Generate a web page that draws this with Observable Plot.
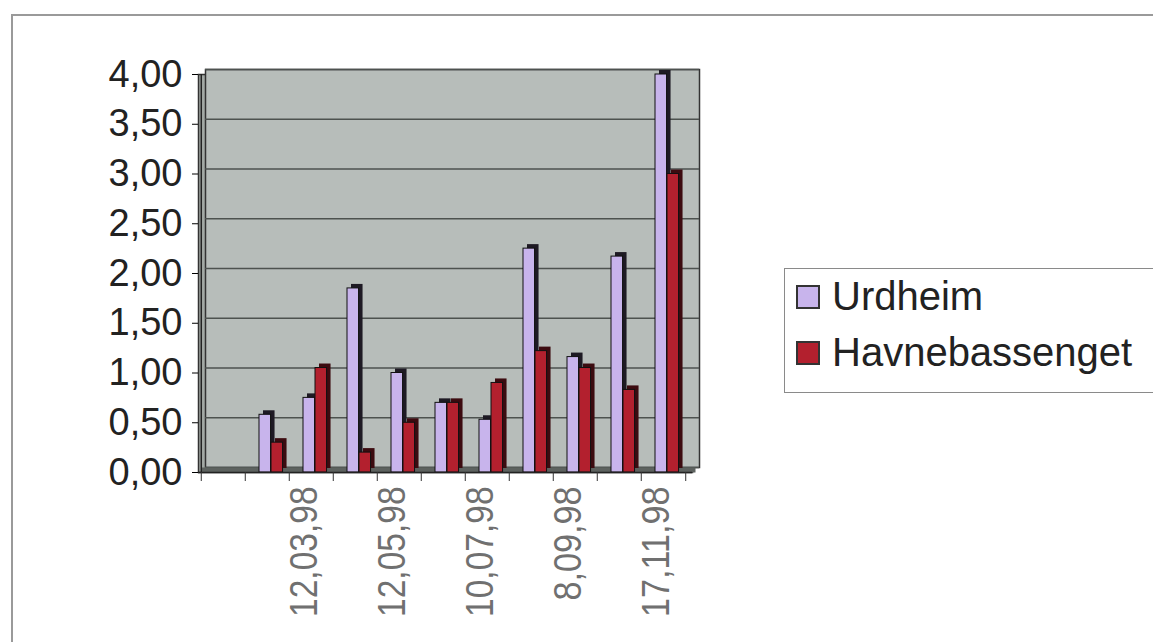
<!DOCTYPE html>
<html>
<head>
<meta charset="utf-8">
<script src="https://cdn.jsdelivr.net/npm/d3@7"></script>
<script src="https://cdn.jsdelivr.net/npm/@observablehq/plot@0.6"></script>
<style>
  html, body { margin: 0; padding: 0; background: #fff; overflow: hidden; }
  #wrap { position: relative; width: 1153px; height: 642px; }
  #outer { position: absolute; left: 11px; top: 14px; width: 1200px; height: 700px;
           border-left: 2px solid #9a9a9a; border-top: 2px solid #9a9a9a; box-sizing: border-box; }
  #chart { position: absolute; left: 0; top: 0; }
  #legend { position: absolute; left: 784px; top: 268px; width: 400px; height: 125px;
            border: 1.5px solid #8a8a8a; box-sizing: border-box; background: #fff;
            font-family: "Liberation Sans", Arial, sans-serif; font-size: 40px; color: #222; }
  .item { position: absolute; left: 11px; display: flex; align-items: center; }
  .sw { width: 24px; height: 24px; border: 2px solid #333; box-sizing: border-box; margin-right: 12px; }
</style>
</head>
<body>
<div id="wrap">
  <div id="outer"></div>
  <div id="chart"></div>
  <div id="legend"></div>
</div>
<script>
// Category tick labels (every other label is shown; first category is empty)
const categoryLabels = ["", "", "12,03,98", "", "12,05,98", "", "10,07,98", "", "8,09,98", "", "17,11,98"];
const seriesNames = ["Urdheim", "Havnebassenget"];
const urdheim        = [null, 0.58, 0.75, 1.85, 1.00, 0.70, 0.53, 2.25, 1.16, 2.17, 4.00];
const havnebassenget = [null, 0.30, 1.05, 0.20, 0.50, 0.70, 0.90, 1.22, 1.05, 0.83, 3.00];
const yTicks = [0, 0.5, 1, 1.5, 2, 2.5, 3, 3.5, 4];

const colors = { front: ["#c8b4ec", "#b3202e"], side: ["#1e1a24", "#3c0b10"] };

const idx = d3.range(categoryLabels.length);
const dataU = idx.filter(i => urdheim[i] != null).map(i => ({i, v: urdheim[i]}));
const dataH = idx.filter(i => havnebassenget[i] != null).map(i => ({i, v: havnebassenget[i]}));

const x0 = 198, x1 = 687;
const bw = (x1 - x0) / idx.length;
const depthX = 4, depthY = -4;

const fmt = d => d.toFixed(2).replace(".", ",");

const chart = Plot.plot({
  width: 1153,
  height: 642,
  marginLeft: 198,
  marginRight: 1153 - 692,
  marginTop: 74,
  marginBottom: 170,
  style: { background: "transparent", fontFamily: "Liberation Sans, Arial, sans-serif" },
  x: { type: "band", domain: idx, range: [x0, x1], padding: 0 },
  y: { domain: [0, 4], ticks: yTicks },
  marks: [
    // front (side walls / floor) and back wall
    Plot.frame({ fill: "#a3a9a5", stroke: "#333", strokeWidth: 1.5 }),
    Plot.frame({ fill: "#b7bdba", stroke: "#333", strokeWidth: 1.5, dx: 7, dy: -5 }),
    Plot.ruleY(yTicks, { stroke: "#4d524f", strokeWidth: 1.5, dx: 7, dy: -5 }),
    Plot.ruleY([0], { stroke: "#5d625f", strokeWidth: 5, dx: 3.5, dy: -2.5 }),
    // Urdheim bars
    Plot.barY(dataU, { x: "i", y: "v", fill: colors.side[0], insetLeft: 14, insetRight: bw - 26, dx: depthX, dy: depthY }),
    Plot.barY(dataU, { x: "i", y: "v", fill: colors.front[0], stroke: "#111", strokeWidth: 1, insetLeft: 14, insetRight: bw - 26 }),
    // Havnebassenget bars
    Plot.barY(dataH, { x: "i", y: "v", fill: colors.side[1], insetLeft: 26, insetRight: bw - 38, dx: depthX, dy: depthY }),
    Plot.barY(dataH, { x: "i", y: "v", fill: colors.front[1], stroke: "#111", strokeWidth: 1, insetLeft: 26, insetRight: bw - 38 }),
    // axes
    Plot.ruleX([0], { x: () => 0, dx: -bw / 2, stroke: "#222", strokeWidth: 1.5 }),
    Plot.ruleY([0], { stroke: "#222", strokeWidth: 1.5 }),
    Plot.axisY({ ticks: yTicks, tickFormat: fmt, tickSize: 6, tickPadding: 10, fontSize: 38, fill: "#222", label: null }),
    Plot.axisX({ ticks: idx, tickFormat: () => "", tickSize: 9, dx: -bw / 2, stroke: "#333", label: null }),
    Plot.axisX({ ticks: [idx.length - 1], tickFormat: () => "", tickSize: 9, dx: bw / 2, stroke: "#333", label: null }),
    Plot.axisX({ ticks: idx, tickFormat: i => categoryLabels[i], tickSize: 0, tickPadding: 14, tickRotate: -90,
                 fontSize: 39, fill: "#707070", label: null, dx: -7,
                 fontFamily: "Liberation Sans Narrow, Liberation Sans, sans-serif" })
  ]
});
document.getElementById("chart").appendChild(chart);

// condense the rotated date labels along their length (narrow font look)
const labelSet = new Set(categoryLabels.filter(s => s));
chart.querySelectorAll("text").forEach(t => {
  const s = t.textContent;
  if (labelSet.has(s)) {
    t.setAttribute("textLength", (s.length * 16.3).toFixed(1));
    t.setAttribute("lengthAdjust", "spacingAndGlyphs");
  }
});

// legend
const legend = document.getElementById("legend");
seriesNames.forEach((name, k) => {
  const it = document.createElement("div");
  it.className = "item";
  it.style.top = (k === 0 ? 5 : 61) + "px";
  const sw = document.createElement("div");
  sw.className = "sw";
  sw.style.background = colors.front[k];
  const tx = document.createElement("span");
  tx.textContent = name;
  it.appendChild(sw);
  it.appendChild(tx);
  legend.appendChild(it);
});
</script>
</body>
</html>
